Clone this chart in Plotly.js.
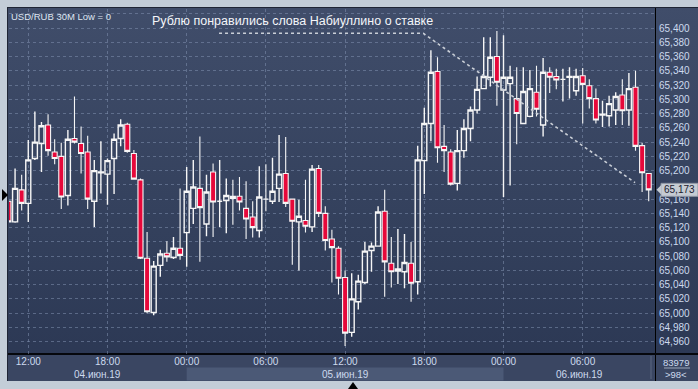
<!DOCTYPE html>
<html>
<head>
<meta charset="utf-8">
<script src="https://cdn.plot.ly/plotly-3.0.1.min.js"></script>
<style>
  html, body { margin:0; padding:0; background:#c3cdd8; }
  #wrap { position:relative; width:698px; height:389px; background:#c3cdd8; overflow:hidden; }
  #panel { position:absolute; left:7px; top:7px; width:690px; height:373px;
           border-left:1px solid #1f2535; border-top:1px solid #1f2535;
           background:linear-gradient(to bottom, #404d6a 0%, #34415d 55%, #2b3753 100%); }
  #strip { position:absolute; left:8px; top:355px; width:690px; height:26px; background:#3a4662; }
  #vline { position:absolute; left:655px; top:8px; width:1px; height:373px; background:#000; }
  #hline { position:absolute; left:8px; top:353px; width:690px; height:2px; background:#05070c; }
  #leftmark { position:absolute; left:2px; top:189px; width:0; height:0;
              border-top:6px solid transparent; border-bottom:6px solid transparent; border-left:6px solid #000; }
  #botmark { position:absolute; left:348px; top:382px; width:0; height:0;
             border-left:5px solid transparent; border-right:5px solid transparent; border-bottom:7px solid #000; }
  #chart { position:absolute; left:0; top:0; width:698px; height:389px; }
</style>
</head>
<body>
<div id="wrap">
  <div id="panel"></div>
  <div id="strip"></div>
  <div id="vline"></div>
  <div id="hline"></div>
  <div id="leftmark"></div>
  <div id="botmark"></div>
  <div id="chart"></div>
</div>
<script>
// ---- data (USD/RUB, 30M bars, from 04.06.2019 10:30) ----
const startTimeUTC = Date.UTC(2019, 5, 4, 10, 30);
const barMinutes = 30;

const open = [
  65.157, 65.128, 65.173, 65.154, 65.217, 65.238, 65.264, 65.226, 65.220, 65.165,
  65.245, 65.238, 65.226, 65.157, 65.197, 65.195, 65.217, 65.245, 65.265, 65.224,
  65.187, 65.077, 65.001, 65.067, 65.084, 65.078, 65.091, 65.113, 65.147, 65.175,
  65.125, 65.198, 65.157, 65.158, 65.164, 65.164, 65.147, 65.135, 65.116, 65.160,
  65.157, 65.175, 65.196, 65.160, 65.128, 65.130, 65.121, 65.203, 65.140, 65.104,
  65.091, 65.050, 64.973, 65.016, 65.043, 65.088, 65.094, 65.143, 65.070, 65.059,
  65.058, 65.070, 65.044, 65.214, 65.266, 65.339, 65.234, 65.226, 65.182, 65.228,
  65.259, 65.285, 65.315, 65.331, 65.360, 65.313, 65.322, 65.301, 65.266, 65.276,
  65.310, 65.264, 65.338, 65.332, 65.328, 65.331, 65.312, 65.333, 65.319, 65.301,
  65.278, 65.277, 65.285, 65.306, 65.285, 65.317, 65.235, 65.196
];
const high = [
  65.162, 65.203, 65.194, 65.243, 65.283, 65.268, 65.279, 65.244, 65.239, 65.257,
  65.304, 65.262, 65.249, 65.215, 65.241, 65.217, 65.252, 65.272, 65.267, 65.229,
  65.189, 65.114, 65.073, 65.089, 65.101, 65.107, 65.175, 65.205, 65.215, 65.248,
  65.194, 65.210, 65.215, 65.189, 65.187, 65.191, 65.185, 65.157, 65.206, 65.209,
  65.218, 65.250, 65.247, 65.161, 65.159, 65.187, 65.208, 65.208, 65.150, 65.117,
  65.094, 65.060, 65.056, 65.054, 65.100, 65.099, 65.150, 65.173, 65.107, 65.118,
  65.111, 65.100, 65.235, 65.288, 65.369, 65.359, 65.264, 65.230, 65.257, 65.272,
  65.290, 65.332, 65.387, 65.387, 65.396, 65.390, 65.347, 65.345, 65.345, 65.341,
  65.347, 65.358, 65.345, 65.343, 65.343, 65.345, 65.343, 65.344, 65.328, 65.315,
  65.298, 65.305, 65.310, 65.328, 65.337, 65.340, 65.239, 65.196
];
const low = [
  65.125, 65.127, 65.144, 65.128, 65.215, 65.198, 65.221, 65.209, 65.146, 65.151,
  65.238, 65.196, 65.146, 65.121, 65.168, 65.152, 65.167, 65.234, 65.225, 65.187,
  65.076, 65.000, 64.997, 65.051, 65.072, 65.076, 65.075, 65.065, 65.125, 65.072,
  65.108, 65.107, 65.121, 65.112, 65.124, 65.144, 65.104, 65.106, 65.106, 65.143,
  65.153, 65.156, 65.149, 65.068, 65.060, 65.113, 65.114, 65.135, 65.088, 65.043,
  65.026, 64.954, 64.967, 65.005, 65.041, 65.058, 65.093, 65.023, 65.036, 65.041,
  65.035, 65.016, 65.026, 65.167, 65.241, 65.211, 65.198, 65.179, 65.172, 65.218,
  65.241, 65.280, 65.314, 65.318, 65.291, 65.163, 65.179, 65.237, 65.265, 65.275,
  65.276, 65.248, 65.309, 65.314, 65.297, 65.301, 65.305, 65.266, 65.287, 65.266,
  65.261, 65.262, 65.264, 65.264, 65.263, 65.228, 65.170, 65.157
];
const close = [
  65.128, 65.175, 65.154, 65.215, 65.240, 65.263, 65.228, 65.217, 65.163, 65.244,
  65.240, 65.224, 65.160, 65.200, 65.198, 65.214, 65.244, 65.264, 65.227, 65.188,
  65.077, 65.002, 65.066, 65.083, 65.079, 65.091, 65.081, 65.171, 65.177, 65.148,
  65.170, 65.156, 65.157, 65.165, 65.161, 65.156, 65.132, 65.120, 65.163, 65.160,
  65.171, 65.195, 65.154, 65.129, 65.136, 65.122, 65.202, 65.140, 65.102, 65.092,
  65.049, 64.972, 65.020, 65.045, 65.087, 65.094, 65.142, 65.072, 65.058, 65.062,
  65.071, 65.042, 65.215, 65.266, 65.338, 65.232, 65.228, 65.181, 65.228, 65.259,
  65.285, 65.314, 65.332, 65.359, 65.324, 65.331, 65.331, 65.280, 65.311, 65.315,
  65.286, 65.338, 65.331, 65.327, 65.328, 65.332, 65.332, 65.321, 65.301, 65.271,
  65.279, 65.294, 65.304, 65.284, 65.315, 65.234, 65.197, 65.173
];

// axis ticks and labels
const xTickVals = ['2019-06-04 12:00','2019-06-04 18:00','2019-06-05 00:00','2019-06-05 06:00',
                   '2019-06-05 12:00','2019-06-05 18:00','2019-06-06 00:00','2019-06-06 06:00'];
const xTickText = ['12:00','18:00','00:00','06:00','12:00','18:00','00:00','06:00'];
const dayLabels = ['04.июн.19','05.июн.19','06.июн.19'];
const dayLabelX = ['2019-06-04 17:16','2019-06-05 12:00','2019-06-06 05:44'];
const yTickVals = [64.96, 64.98, 65.00, 65.02, 65.04, 65.06, 65.08, 65.10, 65.12, 65.14, 65.16,
                   65.18, 65.20, 65.22, 65.24, 65.26, 65.28, 65.30, 65.32, 65.34, 65.36, 65.38,
                   65.40, 65.42];
// 65,180 sits under the price tag and 65,420 is not labelled in the reference
const yHiddenTicks = [65.18, 65.42];
const yTickText = yTickVals.map(v =>
  yHiddenTicks.some(h => Math.abs(h - v) < 1e-6) ? '' : v.toFixed(3).replace('.', ','));

// drawn trend line (annotation object) anchor points
const trendX = ['2019-06-05 02:27', '2019-06-05 17:55', '2019-06-06 09:58'];
const trendY = [65.3926, 65.3926, 65.1830];

const xRange = ['2019-06-04 10:32:24', '2019-06-06 11:28:36'];
const yRange = [64.9427, 65.4267];

const titleText = 'Рублю понравились слова Набиуллино о ставке';
const symbolText = 'USD/RUB 30M Low = 0';
const infoTop = '83979';
const infoBottom = '>98<';

// ---- build ----
const times = open.map((_, i) =>
  new Date(startTimeUTC + i * barMinutes * 60000).toISOString().slice(0, 19).replace('T', ' '));
const lastClose = close[close.length - 1];
const lastText = lastClose.toFixed(3).replace('.', ',');

const fontFam = 'Liberation Sans, Arial, sans-serif';
const labelColor = '#cddaee';
const gridColor = 'rgba(128,143,175,0.55)';
const PW = 646, PH = 345; // plot area in px
const px = d => d / PW, py = d => d / PH;
const yp = (lastClose - yRange[0]) / (yRange[1] - yRange[0]);

const traces = [
  {
    type: 'candlestick', x: times, open: open, high: high, low: low, close: close,
    increasing: { line: { color: '#f6f6f6', width: 1.4 }, fillcolor: 'rgba(0,0,0,0)' },
    decreasing: { line: { color: '#f6f6f6', width: 1.1 }, fillcolor: '#e6083a' },
    whiskerwidth: 0, showlegend: false, hoverinfo: 'skip'
  },
  {
    type: 'scatter', mode: 'lines', x: trendX, y: trendY,
    line: { color: '#c9ced6', width: 1.6, dash: 'dot' },
    showlegend: false, hoverinfo: 'skip'
  }
];

const layout = {
  width: 698, height: 389,
  margin: { l: 9, r: 43, t: 9, b: 35, pad: 0 },
  paper_bgcolor: 'rgba(0,0,0,0)', plot_bgcolor: 'rgba(0,0,0,0)',
  boxgap: 0.24, boxgroupgap: 0,
  showlegend: false,
  xaxis: {
    type: 'date', range: xRange, rangeslider: { visible: false },
    tickmode: 'array', tickvals: xTickVals, ticktext: xTickText,
    showgrid: true, gridcolor: gridColor, griddash: '3px,3px', gridwidth: 1,
    zeroline: false, showline: false, ticks: '',
    tickfont: { family: fontFam, size: 10, color: labelColor }
  },
  yaxis: {
    side: 'right', range: yRange,
    tickmode: 'array', tickvals: yTickVals, ticktext: yTickText,
    showgrid: true, gridcolor: gridColor, griddash: '3px,3px', gridwidth: 1,
    zeroline: false, showline: false, ticks: '', ticklabelstandoff: 3,
    tickfont: { family: fontFam, size: 10, color: labelColor }
  },
  shapes: [
    // lighter band behind the middle day in the date row
    { type: 'rect', xref: 'x', yref: 'paper', x0: '2019-06-05 00:00', x1: '2019-06-06 00:00',
      y0: py(-13.5), y1: py(-26.5), fillcolor: '#4b5976', line: { width: 0 }, layer: 'below' },
    // separator in bottom strip
    { type: 'line', xref: 'paper', yref: 'paper', x0: px(642), x1: px(642), y0: py(-2), y1: py(-25),
      line: { color: '#5a6680', width: 1 } },
    // line in info box
    { type: 'line', xref: 'paper', yref: 'paper', x0: 1 + px(9), x1: 1 + px(35), y0: py(-14), y1: py(-14),
      line: { color: '#9aa6ba', width: 1 } },
    // price tag
    { type: 'rect', xref: 'paper', yref: 'paper', x0: 1 + px(6), x1: 1 + px(43),
      y0: yp - py(6.5), y1: yp + py(6.5), fillcolor: '#c5cbd3', line: { color: '#8e96a3', width: 1 } },
    { type: 'path', xref: 'paper', yref: 'paper',
      path: 'M ' + (1 + px(1.5)) + ',' + yp + ' L ' + (1 + px(6.5)) + ',' + (yp + py(5)) +
            ' L ' + (1 + px(6.5)) + ',' + (yp - py(5)) + ' Z',
      fillcolor: '#c5cbd3', line: { width: 0 } }
  ],
  annotations: [
    { xref: 'paper', yref: 'paper', x: 0, y: 1, xanchor: 'left', yanchor: 'top', xshift: 0, yshift: 0,
      text: symbolText, showarrow: false, font: { family: fontFam, size: 9.5, color: '#dfe6f2' } },
    { xref: 'paper', yref: 'paper', x: px(283), y: py(333), xanchor: 'center', yanchor: 'middle',
      text: titleText, showarrow: false, font: { family: fontFam, size: 12.5, color: '#f4f6fa' } },
    { xref: 'paper', yref: 'paper', x: 1 + px(24.5), y: yp, xanchor: 'center', yanchor: 'middle',
      text: lastText, showarrow: false, font: { family: fontFam, size: 10, color: '#1a2030' } },
    { xref: 'paper', yref: 'paper', x: 1 + px(21), y: py(-8), xanchor: 'center', yanchor: 'middle',
      text: infoTop, showarrow: false, font: { family: fontFam, size: 9.5, color: labelColor } },
    { xref: 'paper', yref: 'paper', x: 1 + px(21), y: py(-20), xanchor: 'center', yanchor: 'middle',
      text: infoBottom, showarrow: false, font: { family: fontFam, size: 9.5, color: labelColor } }
  ].concat(dayLabels.map((t, i) => ({
      xref: 'x', yref: 'paper', x: dayLabelX[i], y: py(-20), xanchor: 'center', yanchor: 'middle',
      text: t, showarrow: false, font: { family: fontFam, size: 10, color: labelColor } })))
};

Plotly.newPlot('chart', traces, layout, { staticPlot: true, displayModeBar: false });
</script>
</body>
</html>
